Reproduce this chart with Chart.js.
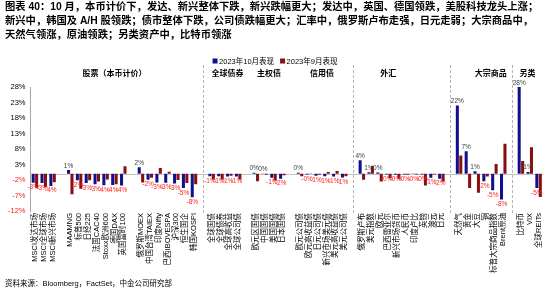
<!DOCTYPE html>
<html>
<head>
<meta charset="utf-8">
<script src="https://cdn.jsdelivr.net/npm/chart.js@4.4.0/dist/chart.umd.min.js"></script>
<style>
  html, body { margin:0; padding:0; background:#fff; }
  #wrap { position:relative; width:550px; height:294px; overflow:hidden; background:#fff; }
  #c { position:absolute; left:0; top:0; }
  #title { position:absolute; left:5px; top:0px; font-family:'Liberation Sans','Noto Sans CJK SC',sans-serif; font-weight:bold; font-size:10.3px; line-height:14px; color:#000; white-space:nowrap; }
  #source { position:absolute; left:5px; top:279px; font-family:'Liberation Sans','Noto Sans CJK SC',sans-serif; font-size:7.5px; line-height:10px; color:#000; white-space:nowrap; }
</style>
</head>
<body>
<div id="wrap">
  <canvas id="c" width="550" height="294"></canvas>
  <div id="title">图表 40：10 月，本币计价下，发达、新兴整体下跌，新兴跌幅更大；发达中，英国、德国领跌，美股科技龙头上涨；<br>新兴中，韩国及 A/H 股领跌；债市整体下跌，公司债跌幅更大；汇率中，俄罗斯卢布走强，日元走弱；大宗商品中，<br>天然气领涨，原油领跌；另类资产中，比特币领涨</div>
  <div id="source">资料来源：Bloomberg，FactSet，中金公司研究部</div>
</div>
<script>
// ---------- data ----------
const categories = [
  'MSCI发达市场','MSCI全球市场','MSCI新兴市场','',
  'MAAMNG','标普500','日经225','法国CAC40','Stoxx欧洲600','德国DAX','英国富时100','',
  '俄罗斯MOEX','中国台湾TAIEX','印度Nifty','巴西IBOVESPA','沪深300','恒生国企','韩国KOSPI','',
  '全球国债','全球债券','全球高收益','全球公司债','',
  '欧元区国债','中国国债','美国国债','日本国债','',
  '欧元公司债','欧元高收益债','日元公司债','新兴市场美元债','美元高收益债','美元公司债','',
  '俄罗斯卢布','美元指数','欧元','巴西雷亚尔','新兴市场货币','人民币','印度卢比','英镑','澳元','日元','',
  '天然气','黄金','大豆','铜','标普大宗商品指数','Brent原油','',
  '比特币','VIX','全球REITs'
];
const oct2023 = [
  -2.9,-3.0,-3.9,null,
  1.2,-2.1,-3.0,-3.4,-3.7,-3.6,-3.8,null,
  2.1,-1.9,-2.8,-2.9,-3.1,-4.6,-7.6,null,
  -0.8,-0.8,-0.9,-0.9,null,
  0.3,0.1,-1.3,-1.6,null,
  0.3,-0.2,-0.6,-0.8,-0.9,-1.2,null,
  4.4,0.5,0.4,-0.2,-0.3,-0.2,-0.1,-0.2,-1.3,-1.6,null,
  22.0,7.3,0.8,-2.4,-5.3,-8.3,null,
  28.0,0.6,-4.6
];
const sep2023 = [
  -4.5,-4.3,-2.7,null,
  -6.6,-4.8,-2.1,-2.5,-1.8,-3.4,2.4,null,
  -2.8,-1.3,1.9,0.7,-2.0,-3.0,-3.4,null,
  -1.8,-1.8,-0.6,-1.8,null,
  -2.4,-0.3,-2.2,-0.5,null,
  -0.8,-0.1,-0.3,0.6,0.9,-0.8,null,
  -1.9,2.5,-2.5,-1.4,-1.6,-0.3,-0.2,-3.8,-0.2,-2.5,null,
  5.9,-4.6,-6.1,-0.9,3.2,9.7,null,
  4.1,8.6,-7.5
];
const seriesNames = ['2023年10月表现','2023年9月表现'];
const yTicks = [-12,-7,-2,3,8,13,18,23,28];
const groupNames = ['股票（本币计价）','全球债券','主权债','信用债','外汇','大宗商品','另类'];
const groupFirst = ['MSCI发达市场','全球国债','欧元区国债','欧元公司债','俄罗斯卢布','天然气','比特币'];
const groupLast  = ['韩国KOSPI','全球公司债','日本国债','美元公司债','日元','Brent原油','全球REITs'];
const dividerAfter = ['韩国KOSPI','美元公司债','日元','Brent原油'];

// ---------- style ----------
const FONT = "'Liberation Sans','Noto Sans CJK SC',sans-serif";
const BLUE = '#10108c';
const RED = '#880e10';
const NEG = '#ff1f1f';

const decor = {
  id: 'decor',
  beforeDatasetsDraw(chart, args, opts) {
    const {ctx, chartArea:a, scales:{x, y}} = chart;
    ctx.save();
    const y0 = Math.round(y.getPixelForValue(0)) + 0.5;
    ctx.strokeStyle = '#c4c4c4'; ctx.lineWidth = 1;
    ctx.beginPath(); ctx.moveTo(a.left, y0); ctx.lineTo(a.right, y0); ctx.stroke();
    ctx.setLineDash([3, 2]); ctx.strokeStyle = '#b4b4b4';
    dividerAfter.forEach(name => {
      const i = categories.indexOf(name) + 1;
      const px = Math.round(x.getPixelForValue(i)) + 0.5;
      ctx.beginPath(); ctx.moveTo(px, a.top - 22); ctx.lineTo(px, a.bottom + 3); ctx.stroke();
    });
    ctx.restore();
  },
  afterDatasetsDraw(chart) {
    const {ctx} = chart;
    const meta = chart.getDatasetMeta(0);
    const vals = chart.data.datasets[0].data;
    ctx.save();
    ctx.font = '6.5px ' + FONT;
    ctx.textAlign = 'center';
    meta.data.forEach((el, i) => {
      const v = vals[i];
      if (v === null || v === undefined) return;
      const txt = (v < 0 ? '-' : '') + Math.round(Math.abs(v)) + '%';
      if (v >= 0) {
        ctx.fillStyle = '#404040'; ctx.textBaseline = 'bottom';
        ctx.fillText(txt, el.x, el.y - 1);
      } else {
        ctx.fillStyle = NEG; ctx.textBaseline = 'top';
        ctx.fillText(txt, el.x, el.y + 1.5);
      }
    });
    ctx.restore();
  },
  afterDraw(chart, args, opts) {
    const {ctx, chartArea:a, scales:{x}} = chart;
    ctx.save();
    // group labels
    ctx.font = 'bold 8px ' + FONT;
    ctx.fillStyle = '#000'; ctx.textAlign = 'center'; ctx.textBaseline = 'middle';
    const slot = x.getPixelForValue(1) - x.getPixelForValue(0);
    groupNames.forEach((g, k) => {
      const p1 = x.getPixelForValue(categories.indexOf(groupFirst[k]));
      const p2 = x.getPixelForValue(categories.indexOf(groupLast[k]));
      ctx.fillText(g, (p1 + p2) / 2 + opts.shift[k] * slot, a.top - 13);
    });
    // legend
    ctx.font = '7.5px ' + FONT;
    ctx.textAlign = 'left';
    const ds = chart.data.datasets;
    const sq = 5, gap = 1.5, itemGap = 6;
    const widths = ds.map(d => sq + gap + ctx.measureText(d.label).width);
    const total = widths.reduce((s, w) => s + w, 0) + itemGap * (ds.length - 1);
    let cx = chart.width / 2 - total / 2;
    const ly = 61;
    ds.forEach((d, k) => {
      ctx.fillStyle = d.backgroundColor;
      ctx.fillRect(cx, ly - sq / 2, sq, sq);
      ctx.fillStyle = '#000';
      ctx.fillText(d.label, cx + sq + gap, ly + 0.5);
      cx += widths[k] + itemGap;
    });
    ctx.restore();
  }
};

new Chart(document.getElementById('c'), {
  type: 'bar',
  data: {
    labels: categories,
    datasets: [
      { label: seriesNames[0], data: oct2023, backgroundColor: BLUE },
      { label: seriesNames[1], data: sep2023, backgroundColor: RED }
    ]
  },
  options: {
    responsive: false,
    animation: false,
    devicePixelRatio: 1,
    layout: { padding: { top: 87, right: 7, bottom: 0, left: 0 } },
    datasets: { bar: { categoryPercentage: 0.78, barPercentage: 0.88 } },
    plugins: {
      legend: { display: false },
      tooltip: { enabled: false },
      decor: { shift: [0, 0.3, 0, 0, -1.5, 1.1, -0.25] }
    },
    scales: {
      x: {
        grid: { display: false, drawTicks: false },
        border: { display: false },
        ticks: {
          autoSkip: false, minRotation: 90, maxRotation: 90, padding: 2,
          color: '#000', font: { family: FONT, size: 7.5 }
        },
        afterFit(s) { s.height = 83; }
      },
      y: {
        min: -12, max: 28,
        grid: { display: false, drawTicks: false },
        border: { display: true, color: '#a6a6a6', width: 1 },
        afterBuildTicks(s) { s.ticks = yTicks.map(v => ({ value: v })); },
        ticks: {
          padding: 5,
          color: c => (c.tick && c.tick.value < 0 ? NEG : '#000'),
          font: { family: FONT, size: 7.5 },
          callback: v => v + '%'
        },
        afterFit(s) { s.width = 30.5; }
      }
    }
  },
  plugins: [decor]
});
</script>
</body>
</html>
